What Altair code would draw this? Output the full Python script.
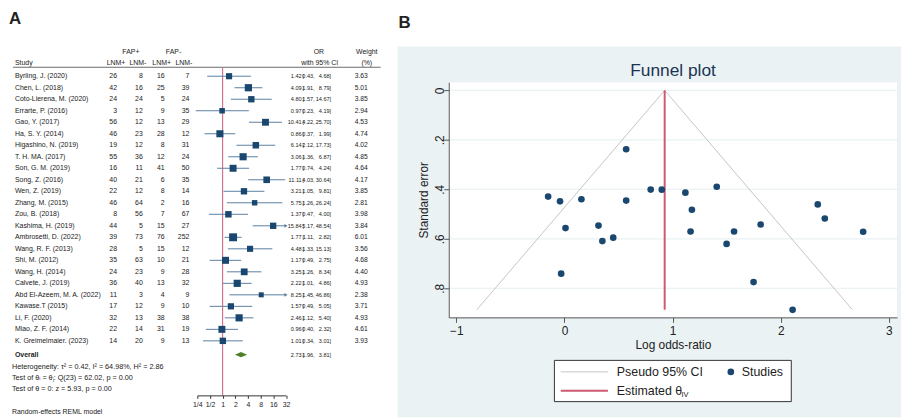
import altair as alt
import pandas as pd

# ---------------- data ----------------
studies = ["Byrling, J. (2020)", "Chen, L. (2018)", "Coto-Lierena, M. (2020)", "Errarte, P. (2016)",
           "Gao, Y. (2017)", "Ha, S. Y. (2014)", "Higashino, N. (2019)", "T. H. MA. (2017)",
           "Son, G. M. (2019)", "Song, Z. (2016)", "Wen, Z. (2019)", "Zhang, M. (2015)",
           "Zou, B. (2018)", "Kashima, H. (2019)", "Ambrosetti, D. (2022)", "Wang, R. F. (2013)",
           "Shi, M. (2012)", "Wang, H. (2014)", "Calvete, J. (2019)", "Abd El-Azeem, M. A. (2022)",
           "Kawase.T (2015)", "Li, F. (2020)", "Miao, Z. F. (2014)", "K. Greimelmaier. (2023)"]
fap_pos_lnm_pos = [26, 42, 24, 3, 56, 46, 19, 55, 16, 40, 22, 46, 8, 44, 39, 28, 35, 24, 36, 11, 17, 32, 22, 14]
fap_pos_lnm_neg = [8, 16, 24, 12, 12, 23, 12, 36, 11, 21, 12, 64, 56, 5, 73, 5, 63, 23, 40, 3, 12, 13, 14, 20]
fap_neg_lnm_pos = [16, 25, 5, 9, 13, 28, 8, 12, 41, 6, 8, 2, 7, 15, 76, 15, 10, 9, 13, 4, 9, 38, 31, 9]
fap_neg_lnm_neg = [7, 39, 24, 35, 29, 12, 31, 24, 50, 35, 14, 16, 67, 27, 252, 12, 21, 28, 32, 9, 10, 38, 19, 13]
odds_ratio = [1.42, 4.09, 4.80, 0.97, 10.41, 0.86, 6.14, 3.06, 1.77, 11.11, 3.21, 5.75,
              1.37, 15.84, 1.77, 4.48, 1.17, 3.25, 2.22, 8.25, 1.57, 2.46, 0.96, 1.01]
ci_low = [0.43, 1.91, 1.57, 0.23, 4.22, 0.37, 2.12, 1.36, 0.74, 4.03, 1.05, 1.26,
          0.47, 5.17, 1.11, 1.33, 0.49, 1.26, 1.01, 1.45, 0.49, 1.12, 0.40, 0.34]
ci_high = [4.68, 8.79, 14.67, 4.19, 25.70, 1.99, 17.73, 6.87, 4.24, 30.64, 9.81, 26.24,
           4.00, 48.54, 2.82, 15.13, 2.75, 8.34, 4.86, 46.86, 5.05, 5.40, 2.32, 3.01]
weights = [3.63, 5.01, 3.85, 2.94, 4.53, 4.74, 4.02, 4.85, 4.64, 4.17, 3.85, 2.81,
           3.98, 3.84, 6.01, 3.56, 4.68, 4.40, 4.93, 2.38, 3.71, 4.93, 4.61, 3.93]
overall_ci = [1.96, 2.73, 3.81]          # low, estimate, high
forest_ticks = [0.25, 0.5, 1, 2, 4, 8, 16, 32]
footnotes = ["Heterogeneity: \u03c4\u00b2 = 0.42, I\u00b2 = 64.98%, H\u00b2 = 2.86",
             "Test of \u03b8\u1d62 = \u03b8\u2c7c: Q(23) = 62.02, p = 0.00",
             "Test of \u03b8 = 0: z = 5.93, p = 0.00"]
model_note = "Random-effects REML model"

funnel_x_ticks = [-1, 0, 1, 2, 3]
funnel_y_ticks = [0, 0.2, 0.4, 0.6, 0.8]
pseudo_ci_x = [-0.81, 0.927, 2.663]
pseudo_ci_se = [0.886, 0.0, 0.886]
theta_iv = 0.927
se_max = 0.886

# ---------------- styles ----------------
FONT = "Liberation Sans"
NAVY = "#1a476f"
CI_COL = "#5a7fa3"
RED = "#cc5a72"
GREEN = "#4f7f2a"
PANEL = "#eaf2f3"
TXT = "#222222"
FS = 7
FS_NUM = 5.6

df = pd.DataFrame({
    "study": studies, "a": fap_pos_lnm_pos, "b": fap_pos_lnm_neg,
    "c": fap_neg_lnm_pos, "d": fap_neg_lnm_neg,
    "odds": odds_ratio, "lo": ci_low, "hi": ci_high, "w": weights,
})
df["row"] = range(len(df))
df["hi_c"] = df["hi"].clip(upper=32)
df["or_txt"] = df["odds"].map("{:.2f}".format)
df["lo_txt"] = df["lo"].map("{:.2f},".format)
df["hi_txt"] = df["hi"].map("{:.2f}]".format)
df["w_txt"] = df["w"].map("{:.2f}".format)

DUMMY = pd.DataFrame({"_": [0]})

ROW = alt.Scale(domain=[0, 23], range=[67, 334], nice=False, zero=False)
FX = alt.Scale(type="log", base=2, domain=[0.25, 32], range=[191, 280.5], nice=False)
FX_AXIS = alt.Axis(orient="bottom", offset=-22, values=forest_ticks,
                   labelExpr="datum.value < 1 ? '1/' + format(1/datum.value, 'd') : format(datum.value, 'd')",
                   tickSize=3, labelFontSize=7, labelFont=FONT, labelColor=TXT,
                   domainColor="#333", tickColor="#333", title=None, grid=False,
                   labelPadding=2, zindex=1, labelOverlap=False, labelFlush=False)


def yrow(r):
    return alt.YDatum(r, scale=ROW, axis=None, type="quantitative")


def fixed_text(label, x, r, align="left", size=FS, bold=False):
    return alt.Chart(DUMMY).mark_text(
        text=label, align=align, baseline="middle", fontSize=size, font=FONT,
        fontWeight="bold" if bold else "normal", color=TXT
    ).encode(x=alt.value(x), y=yrow(r))


Yr = alt.Y("row:Q", scale=ROW, axis=None)
base = alt.Chart(df)


def col_text(field, x, align, size=FS):
    return base.mark_text(align=align, baseline="middle", fontSize=size, font=FONT, color=TXT).encode(
        x=alt.value(x), y=Yr, text=f"{field}:N")


X_EST, X_BR, X_LO, X_HI, X_W = 296.3, 297.1, 309.4, 326, 363

forest_layers = [
    # header
    fixed_text("FAP+", 124, -2.09, "center"),
    fixed_text("FAP-", 167, -2.09, "center"),
    fixed_text("Study", 7, -1.15),
    fixed_text("LNM+", 109, -1.15, "center"),
    fixed_text("LNM-", 131, -1.15, "center"),
    fixed_text("LNM+", 155, -1.15, "center"),
    fixed_text("LNM-", 177.5, -1.15, "center"),
    fixed_text("OR", 313.7, -2.09, "center"),
    fixed_text("with 95% CI", 314.5, -1.15, "center"),
    fixed_text("Weight", 362, -2.09, "center"),
    fixed_text("(%)", 362, -1.15, "center"),
    alt.Chart(DUMMY).mark_rule(color="#444", strokeWidth=0.8).encode(
        x=alt.value(5), x2=alt.value(376), y=yrow(-0.78)),
    # reference line at OR = 1
    alt.Chart(DUMMY).mark_rule(color=RED, strokeWidth=1).encode(
        x=alt.XDatum(1, scale=FX, axis=FX_AXIS, type="quantitative"),
        y=yrow(-0.72), y2=alt.Y2Datum(27.74)),
    # table columns
    col_text("study", 7, "left"),
    col_text("a", 110, "right"),
    col_text("b", 136, "right"),
    col_text("c", 158, "right"),
    col_text("d", 183, "right"),
    col_text("or_txt", X_EST, "right", FS_NUM),
    base.mark_text(text="[", align="left", baseline="middle", fontSize=FS_NUM, font=FONT, color=TXT).encode(
        x=alt.value(X_BR), y=Yr),
    col_text("lo_txt", X_LO, "right", FS_NUM),
    col_text("hi_txt", X_HI, "right", FS_NUM),
    col_text("w_txt", X_W, "right", 6.8),
    # confidence intervals
    base.mark_rule(color=CI_COL, strokeWidth=1).encode(
        x=alt.X("lo:Q", scale=FX, axis=FX_AXIS), x2="hi_c:Q", y=Yr),
    base.transform_filter("datum.hi > 32").mark_point(
        shape="triangle-right", filled=True, size=14, color=CI_COL, opacity=1).encode(
        x=alt.X("hi_c:Q", scale=FX, axis=FX_AXIS), y=Yr),
    base.mark_square(color=NAVY, opacity=1).encode(
        x=alt.X("odds:Q", scale=FX, axis=FX_AXIS), y=Yr,
        size=alt.Size("w:Q", scale=alt.Scale(domain=[0, 6.01], range=[0, 64], zero=True), legend=None)),
    # overall
    fixed_text("Overall", 7, 24.2, bold=True),
    alt.Chart(pd.DataFrame({"v": overall_ci, "tip": [0, 1, 0]})).transform_calculate(
        y_top="24.2 - 0.23 * datum.tip", y_bot="24.2 + 0.23 * datum.tip"
    ).mark_area(orient="vertical", color=GREEN, opacity=1).encode(
        x=alt.X("v:Q", scale=FX, axis=FX_AXIS),
        y=alt.Y("y_top:Q", scale=ROW, axis=None), y2="y_bot:Q"),
    fixed_text(f"{overall_ci[1]:.2f}", X_EST, 24.2, "right", FS_NUM),
    fixed_text("[", X_BR, 24.2, size=FS_NUM),
    fixed_text(f"{overall_ci[0]:.2f},", X_LO, 24.2, "right", FS_NUM),
    fixed_text(f"{overall_ci[2]:.2f}]", X_HI, 24.2, "right", FS_NUM),
    fixed_text(footnotes[0], 4, 25.24, size=7.3),
    fixed_text(footnotes[1], 4, 26.19, size=7.3),
    fixed_text(footnotes[2], 4, 27.22, size=7.3),
    fixed_text(model_note, 4, 29.2, size=7),
]
forest = alt.layer(*forest_layers)

# ---------------- funnel plot ----------------
FUX = alt.Scale(domain=[-1.07, 3.076], range=[444.7, 897], nice=False, zero=False)
FUY = alt.Scale(domain=[-0.033, 0.917], range=[73, 310.3], nice=False, zero=False)
FUX_AXIS = alt.Axis(orient="bottom", offset=-100.7, values=funnel_x_ticks, format="d",
                    title="Log odds-ratio", titleFontSize=12, titleFontWeight="normal", titleFont=FONT,
                    titleColor=TXT, titlePadding=3, labelFontSize=12, labelFont=FONT, labelColor=TXT,
                    tickSize=5, labelPadding=3, domainColor="#555", tickColor="#555", grid=False,
                    zindex=1, labelFlush=False)
FUY_AXIS = alt.Axis(orient="left", offset=-444.7, values=funnel_y_ticks,
                    labelExpr="datum.value == 0 ? '0' : replace(format(datum.value, '.1f'), '0.', '.')",
                    labelAngle=270, labelAlign="center", labelBaseline="middle",
                    title="Standard error", titleFontSize=12, titleFontWeight="normal", titleFont=FONT,
                    titleColor=TXT, titlePadding=3, labelFontSize=12, labelFont=FONT, labelColor=TXT,
                    tickSize=5, labelPadding=4, domainColor="#555", tickColor="#555", grid=False,
                    zindex=1, labelFlush=False)

funnel_layers = [
    alt.Chart(DUMMY).mark_rect(color="white").encode(
        x=alt.XDatum(-1.07, scale=FUX, axis=FUX_AXIS, type="quantitative"), x2=alt.X2Datum(3.076),
        y=alt.YDatum(-0.033, scale=FUY, axis=FUY_AXIS, type="quantitative"), y2=alt.Y2Datum(0.917)),
    alt.Chart(pd.DataFrame({"se": funnel_y_ticks})).mark_rule(color=PANEL, strokeWidth=1.2).encode(
        y=alt.Y("se:Q", scale=FUY, axis=FUY_AXIS),
        x=alt.XDatum(-1.07, scale=FUX, axis=FUX_AXIS, type="quantitative"), x2=alt.X2Datum(3.076)),
    alt.Chart(pd.DataFrame({"x": pseudo_ci_x, "se": pseudo_ci_se, "k": [0, 1, 2]})).mark_line(
        color="#c4c4c4", strokeWidth=1).encode(
        x=alt.X("x:Q", scale=FUX, axis=FUX_AXIS), y=alt.Y("se:Q", scale=FUY, axis=FUY_AXIS), order="k:Q"),
    alt.Chart(pd.DataFrame({"x": [theta_iv], "s0": [0.0], "s1": [se_max]})).mark_rule(
        color=RED, strokeWidth=2).encode(
        x=alt.X("x:Q", scale=FUX, axis=FUX_AXIS), y=alt.Y("s0:Q", scale=FUY, axis=FUY_AXIS), y2="s1:Q"),
    base.transform_calculate(
        logor="log(datum.odds)", se="(log(datum.hi) - log(datum.lo)) / 3.92"
    ).mark_circle(size=45, color=NAVY, opacity=1).encode(
        x=alt.X("logor:Q", scale=FUX, axis=FUX_AXIS), y=alt.Y("se:Q", scale=FUY, axis=FUY_AXIS)),
]
funnel = alt.layer(*funnel_layers)

# ---------------- decorations ----------------
def deco_text(label, x, y, size, bold=False, align="left", color=TXT):
    return alt.Chart(DUMMY).mark_text(
        text=label, align=align, baseline="middle", fontSize=size, font=FONT,
        fontWeight="bold" if bold else "normal", color=color).encode(x=alt.value(x), y=alt.value(y))


panel_bg = alt.Chart(DUMMY).mark_rect(color=PANEL).encode(
    x=alt.value(393), x2=alt.value(901), y=alt.value(37), y2=alt.value(411))

deco = [
    deco_text("A", 1, 9, 17, bold=True),
    deco_text("B", 394, 13, 17, bold=True),
    deco_text("Funnel plot", 671, 61.3, 17.5, align="center", color="#1c3453"),
    alt.Chart(DUMMY).mark_rect(fill="white", stroke="#333", strokeWidth=1).encode(
        x=alt.value(551.3), x2=alt.value(790.3), y=alt.value(353.7), y2=alt.value(395.3)),
    alt.Chart(DUMMY).mark_rule(color="#c4c4c4", strokeWidth=1).encode(
        x=alt.value(557.7), x2=alt.value(605.3), y=alt.value(365.3)),
    alt.Chart(DUMMY).mark_rule(color=RED, strokeWidth=2).encode(
        x=alt.value(557.7), x2=alt.value(605.3), y=alt.value(384.3)),
    alt.Chart(DUMMY).mark_circle(size=45, color=NAVY, opacity=1).encode(
        x=alt.value(729.3), y=alt.value(365.3)),
    deco_text("Pseudo 95% CI", 614.3, 365.3, 12.5),
    deco_text("Studies", 740.3, 365.3, 12.5),
    deco_text("Estimated \u03b8", 614.3, 384.3, 12.5),
    deco_text("IV", 679.5, 388.5, 7.5),
]

chart = alt.layer(panel_bg, forest, funnel, *deco).resolve_scale(
    x="independent", y="independent"
).properties(width=901, height=411, padding=0, background="white").configure_view(stroke=None)

chart.save("out.html", embed_options={"renderer": "svg", "actions": False})
